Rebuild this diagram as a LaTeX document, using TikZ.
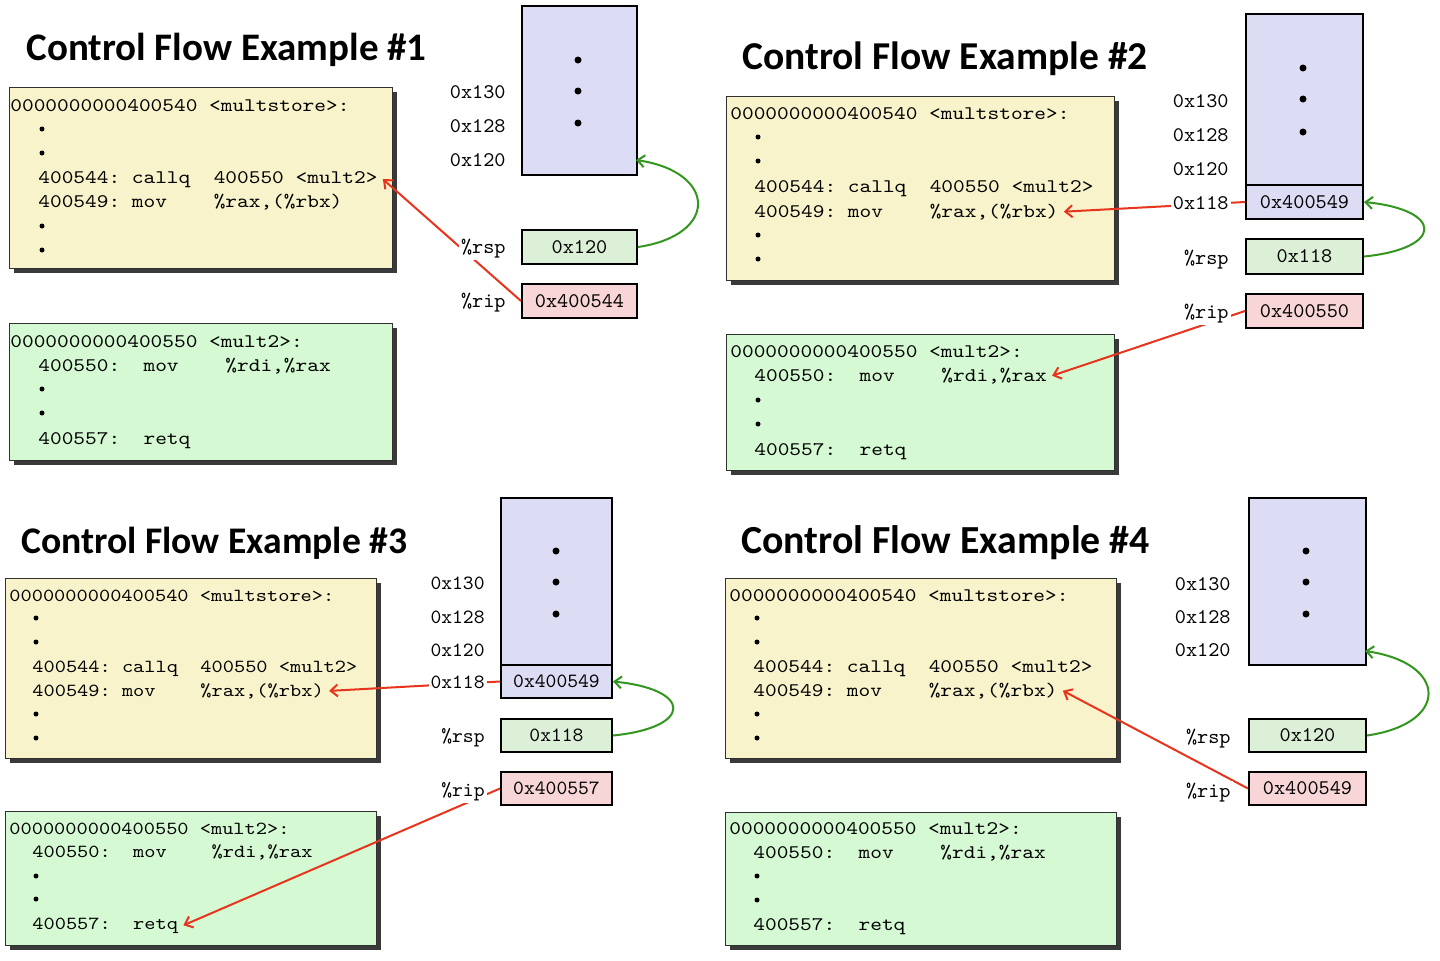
\documentclass[tikz,border=0pt]{standalone}
\usepackage{fontspec}
\usetikzlibrary{arrows.meta}
\newfontfamily\cf{lmmono10-regular.otf}[FakeStretch=1.16]
\newfontfamily\lf{lmmono10-regular.otf}[FakeStretch=1.02]
\newfontfamily\tfnt{Carlito}
\definecolor{codeY}{HTML}{F8F3CB}
\definecolor{codeG}{HTML}{D5FAD3}
\definecolor{stackB}{HTML}{DCDCF4}
\definecolor{regG}{HTML}{DCF0D7}
\definecolor{regP}{HTML}{F8D5D6}
\definecolor{redA}{HTML}{E8341C}
\definecolor{grnA}{HTML}{33961F}
\definecolor{shad}{HTML}{3A3A3A}
\definecolor{edgec}{HTML}{303030}
\pgfdeclarelayer{front}
\pgfsetlayers{main,front}
\frenchspacing
\tikzset{
 ttl/.style={font=\fontsize{19.5}{23}\tfnt\bfseries, inner sep=0pt, anchor=base west},
 code/.style={font=\fontsize{9.6}{11}\cf\frenchspacing, inner sep=0pt, anchor=base west},
 lbl/.style={font=\fontsize{10.4}{12}\lf, fill=white, inner sep=1pt, anchor=base east},
 reg/.style={draw=black, line width=1pt, inner sep=0pt, font=\fontsize{10.4}{12}\lf},
 cbox/.style={draw=edgec, line width=0.7pt, inner sep=0pt},
 rarrow/.style={draw=redA, line width=1pt, -{Straight Barb[length=3.5pt,width=6pt]}},
 garrow/.style={draw=grnA, line width=1pt, -{Straight Barb[length=3.5pt,width=6pt]}},
}
\newcommand\codebox[6]{%
  \fill[shad] (#2+5,#3+5) rectangle (#4+5,#5+5);
  \node[cbox, fill=#6, anchor=north west, minimum width={(#4-#2)*0.5pt}, minimum height={(#5-#3)*0.5pt}] (#1) at (#2,#3) {};}
\newcommand\bx[7]{\node[#6, anchor=north west, minimum width={(#4-#2)*0.5pt}, minimum height={(#5-#3)*0.5pt}] (#1) at (#2,#3) {#7};}
\newcommand\bul[2]{\fill (#1,#2) circle[radius=1.25pt];}
\newcommand\sdot[2]{\fill (#1,#2) circle[radius=1.75pt];}
\begin{document}
\begin{tikzpicture}[x=0.5pt,y=-0.5pt]
\fill[white] (0,0) rectangle (1440,960);
\useasboundingbox (0,0) rectangle (1440,960);

%================ Panel 1 ================
\node[ttl] (t1) at (26,60) {Control Flow Example \#1};
\codebox{p1y}{9}{87}{392}{268}{codeY}
\node[code] (p1y0) at (10,111.5) {0000000000400540 <multstore>:};
\bul{42}{129}\bul{42}{153}
\node[code] (p1y3) at (38,183) {400544: callq~~400550 <mult2>};
\node[code] (p1y4) at (38,207.5) {400549: mov~~~~\%rax,(\%rbx)};
\bul{42}{226}\bul{42}{250}
\codebox{p1g}{9}{323}{392}{460}{codeG}
\node[code] (p1g0) at (10,347) {0000000000400550 <mult2>:};
\node[code] (p1g1) at (38,371) {400550:~~mov~~~~\%rdi,\%rax};
\bul{42}{389}\bul{42}{413}
\node[code] (p1g4) at (38,444) {400557:~~retq};
\bx{p1stk}{521}{5}{636}{174}{reg,fill=stackB}{}
\sdot{578}{60}\sdot{578}{91}\sdot{578}{123}
\bx{p1rsp}{521}{229}{636}{263}{reg,fill=regG}{0x120}
\bx{p1rip}{521}{283}{636}{317}{reg,fill=regP}{0x400544}
\coordinate (p1t) at (636,160);
\draw[rarrow] (p1rip.west) -- ([xshift=2.5pt]p1y3.east);
\draw[garrow] (p1rsp.east) .. controls +(81,-12) and +(81,12) .. (p1t);
\begin{pgfonlayer}{front}
\node[lbl] (p1l130) at (508,98.4) {0x130};
\node[lbl] (p1l128) at (508,132.4) {0x128};
\node[lbl] (p1l120) at (508,166.4) {0x120};
\node[lbl] (p1lrsp) at (508,253) {\%rsp};
\node[lbl] (p1lrip) at (508,307) {\%rip};
\end{pgfonlayer}

%================ Panel 2 ================
\node[ttl, font=\fontsize{19.75}{23}\tfnt\bfseries] (t2) at (742,69) {Control Flow Example \#2};
\codebox{p2y}{726}{96}{1114}{280}{codeY}
\node[code] (p2y0) at (730,119) {0000000000400540 <multstore>:};
\bul{758}{137}\bul{758}{161}
\node[code] (p2y3) at (754,192) {400544: callq~~400550 <mult2>};
\node[code] (p2y4) at (754,217) {400549: mov~~~~\%rax,(\%rbx)};
\bul{758}{235}\bul{758}{259}
\codebox{p2g}{726}{334}{1114}{470}{codeG}
\node[code] (p2g0) at (730,357) {0000000000400550 <mult2>:};
\node[code] (p2g1) at (754,381) {400550:~~mov~~~~\%rdi,\%rax};
\bul{758}{400}\bul{758}{424}
\node[code] (p2g4) at (754,455) {400557:~~retq};
\bx{p2stk}{1245}{13}{1362}{218}{reg,fill=stackB}{}
\bx{p2cell}{1245}{184}{1362}{218}{reg,fill=stackB}{0x400549}
\sdot{1303}{68}\sdot{1303}{99}\sdot{1303}{132}
\bx{p2rsp}{1245}{238}{1362}{273}{reg,fill=regG}{0x118}
\bx{p2rip}{1245}{293}{1362}{327}{reg,fill=regP}{0x400550}
\draw[rarrow] (p2cell.west) -- ([xshift=2.5pt]p2y4.east);
\draw[rarrow] (p2rip.west) -- ([xshift=2.5pt]p2g1.east);
\draw[garrow] (p2rsp.east) .. controls +(80,-8) and +(80,8) .. (p2cell.east);
\begin{pgfonlayer}{front}
\node[lbl] (p2l130) at (1231,107.4) {0x130};
\node[lbl] (p2l128) at (1231,141.4) {0x128};
\node[lbl] (p2l120) at (1231,175.4) {0x120};
\node[lbl] (p2l118) at (1231,209.4) {0x118};
\node[lbl] (p2lrsp) at (1231,264) {\%rsp};
\node[lbl] (p2lrip) at (1231,318) {\%rip};
\end{pgfonlayer}

%================ Panel 3 ================
\begin{scope}[code/.append style={font=\fontsize{9.2}{11}\cf\frenchspacing},
  lbl/.append style={font=\fontsize{10.1}{12}\lf},
  reg/.append style={font=\fontsize{10.1}{12}\lf}]
\node[ttl, font=\fontsize{18.8}{23}\tfnt\bfseries] (t3) at (21,553) {Control Flow Example \#3};
\codebox{p3y}{5}{578}{376}{758}{codeY}
\node[code] (p3y0) at (9,601) {0000000000400540 <multstore>:};
\bul{36}{618}\bul{36}{642}
\node[code] (p3y3) at (32,672) {400544: callq~~400550 <mult2>};
\node[code] (p3y4) at (32,696) {400549: mov~~~~\%rax,(\%rbx)};
\bul{36}{714}\bul{36}{738}
\codebox{p3g}{5}{811}{376}{945}{codeG}
\node[code] (p3g0) at (9,834) {0000000000400550 <mult2>:};
\node[code] (p3g1) at (32,857) {400550:~~mov~~~~\%rdi,\%rax};
\bul{36}{876}\bul{36}{899}
\node[code] (p3g4) at (32,929) {400557:~~retq};
\bx{p3stk}{500}{497}{611}{697}{reg,fill=stackB}{}
\bx{p3cell}{500}{664}{611}{697}{reg,fill=stackB}{0x400549}
\sdot{556}{551}\sdot{556}{582}\sdot{556}{614}
\bx{p3rsp}{500}{718}{611}{751}{reg,fill=regG}{0x118}
\bx{p3rip}{500}{771}{611}{804}{reg,fill=regP}{0x400557}
\draw[rarrow] (p3cell.west) -- ([xshift=2.5pt]p3y4.east);
\draw[rarrow] (p3rip.west) -- ([xshift=2.5pt]p3g4.east);
\draw[garrow] (p3rsp.east) .. controls +(80,-8) and +(80,8) .. (p3cell.east);
\begin{pgfonlayer}{front}
\node[lbl] (p3l130) at (487,589.2) {0x130};
\node[lbl] (p3l128) at (487,623.2) {0x128};
\node[lbl] (p3l120) at (487,656.2) {0x120};
\node[lbl] (p3l118) at (487,688.2) {0x118};
\node[lbl] (p3lrsp) at (487,742.5) {\%rsp};
\node[lbl] (p3lrip) at (487,796) {\%rip};
\end{pgfonlayer}
\end{scope}

%================ Panel 4 ================
\node[ttl, font=\fontsize{19.9}{23}\tfnt\bfseries] (t4) at (741,553) {Control Flow Example \#4};
\codebox{p4y}{725}{578}{1116}{758}{codeY}
\node[code] (p4y0) at (729,601) {0000000000400540 <multstore>:};
\bul{757}{618}\bul{757}{642}
\node[code] (p4y3) at (753,672) {400544: callq~~400550 <mult2>};
\node[code] (p4y4) at (753,696) {400549: mov~~~~\%rax,(\%rbx)};
\bul{757}{714}\bul{757}{738}
\codebox{p4g}{725}{812}{1116}{945}{codeG}
\node[code] (p4g0) at (729,834) {0000000000400550 <mult2>:};
\node[code] (p4g1) at (753,858) {400550:~~mov~~~~\%rdi,\%rax};
\bul{757}{876}\bul{757}{900}
\node[code] (p4g4) at (753,930) {400557:~~retq};
\bx{p4stk}{1248}{497}{1365}{664}{reg,fill=stackB}{}
\sdot{1306}{551}\sdot{1306}{582}\sdot{1306}{614}
\bx{p4rsp}{1248}{718}{1365}{751}{reg,fill=regG}{0x120}
\bx{p4rip}{1248}{771}{1365}{804}{reg,fill=regP}{0x400549}
\coordinate (p4t) at (1365,651);
\draw[rarrow] (p4rip.west) -- ([xshift=2.5pt]p4y4.east);
\draw[garrow] (p4rsp.east) .. controls +(83,-12) and +(83,12) .. (p4t);
\begin{pgfonlayer}{front}
\node[lbl] (p4l130) at (1233,590.4) {0x130};
\node[lbl] (p4l128) at (1233,623.4) {0x128};
\node[lbl] (p4l120) at (1233,656.4) {0x120};
\node[lbl] (p4lrsp) at (1233,743) {\%rsp};
\node[lbl] (p4lrip) at (1233,797) {\%rip};
\end{pgfonlayer}
\end{tikzpicture}
\end{document}
